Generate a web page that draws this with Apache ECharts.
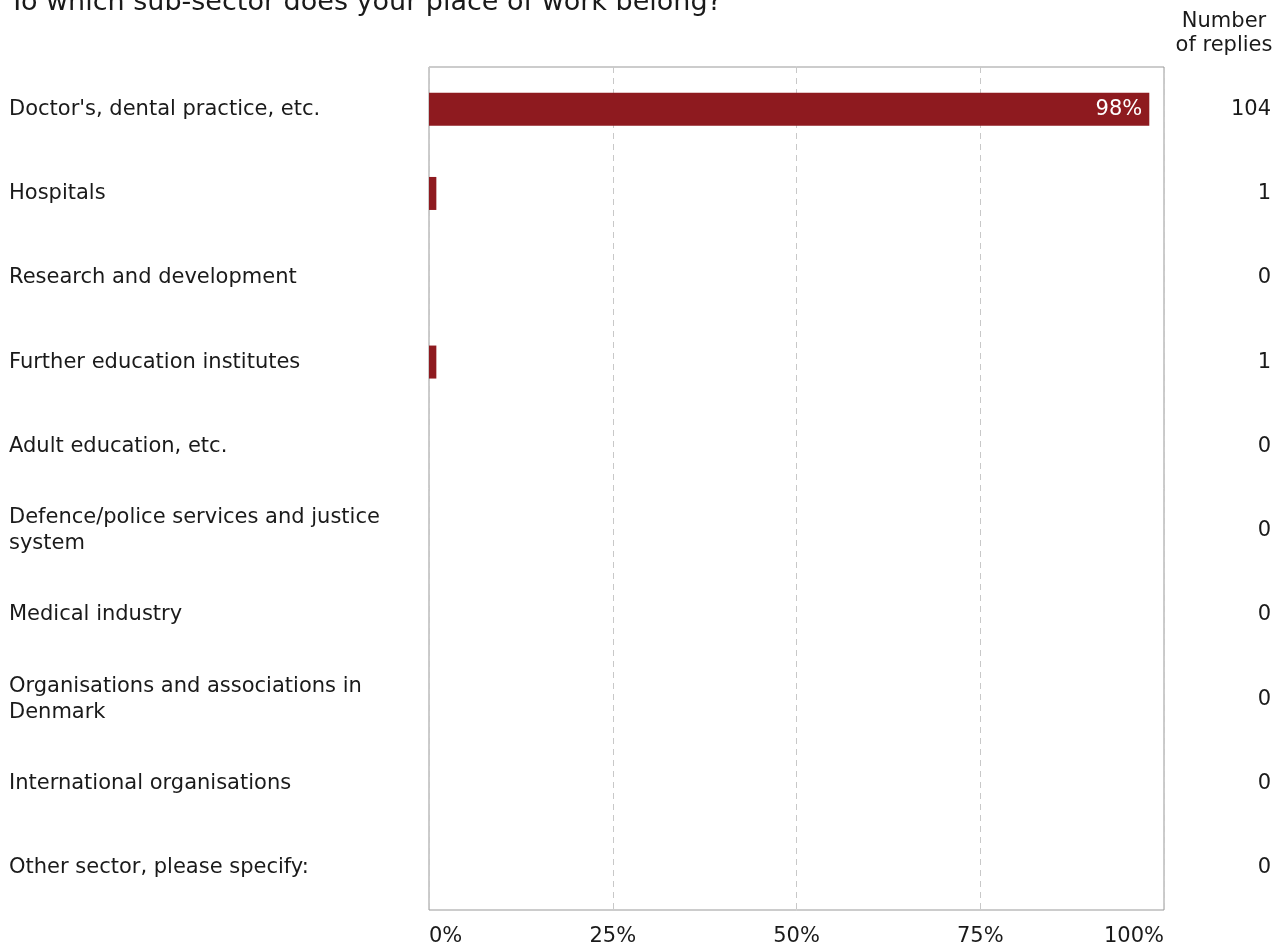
<!DOCTYPE html>
<html>
<head>
<meta charset="utf-8">
<script src="https://cdn.jsdelivr.net/npm/echarts@6/dist/echarts.min.js"></script>
<style>
  html, body { margin: 0; padding: 0; background: #fff; }
  #chart { width: 1276px; height: 947px; }
</style>
</head>
<body>
<div id="chart"></div>
<script>
// Survey answers: share of replies per sub-sector and reply counts
const categories = [
  "Doctor's, dental practice, etc.",
  "Hospitals",
  "Research and development",
  "Further education institutes",
  "Adult education, etc.",
  "Defence/police services and justice system",
  "Medical industry",
  "Organisations and associations in Denmark",
  "International organisations",
  "Other sector, please specify:"
];
const percentValues = [98, 1, 0, 1, 0, 0, 0, 0, 0, 0];
const replyCounts = [104, 1, 0, 1, 0, 0, 0, 0, 0, 0];
const percentTicks = ["0%", "25%", "50%", "75%", "100%"];

const FONT = "DejaVu Sans";
const TEXT = "#1a1a1a";
const FS = 21;

const chart = echarts.init(document.getElementById('chart'));
chart.setOption({
  animation: false,
  backgroundColor: '#fff',
  textStyle: { fontFamily: FONT },
  title: {
    text: 'To which sub-sector does your place of work belong?',
    left: 9,
    top: -11,
    padding: 0,
    textStyle: { fontFamily: FONT, fontSize: 27, fontWeight: 'normal', color: TEXT }
  },
  graphic: [
    {
      type: 'text', x: 1224, y: 22,
      style: { text: 'Number', fontFamily: FONT, fontSize: FS, fill: TEXT, align: 'center', verticalAlign: 'middle' }
    },
    {
      type: 'text', x: 1224, y: 46,
      style: { text: 'of replies', fontFamily: FONT, fontSize: FS, fill: TEXT, align: 'center', verticalAlign: 'middle' }
    }
  ],
  grid: {
    left: 429, right: 112, top: 67, bottom: 36,
    show: true, borderColor: '#999', borderWidth: 1
  },
  xAxis: {
    type: 'value', min: 0, max: 100, interval: 25,
    axisLine: { show: false }, axisTick: { show: false },
    splitLine: { show: true, lineStyle: { color: '#c8c8c8', type: [6, 5], width: 1 } },
    axisLabel: {
      margin: 16, fontFamily: FONT, fontSize: FS, color: TEXT,
      alignMinLabel: 'left', alignMaxLabel: 'right',
      formatter: v => percentTicks[Math.round(v / 25)]
    }
  },
  yAxis: [
    {
      type: 'category', data: categories, inverse: true,
      axisLine: { show: false }, axisTick: { show: false },
      axisLabel: {
        align: 'left', margin: 420, fontFamily: FONT, fontSize: FS, color: TEXT,
        width: 395, overflow: 'break', lineHeight: 26
      }
    },
    {
      type: 'category', data: replyCounts.map(String), inverse: true, position: 'right',
      axisLine: { show: false }, axisTick: { show: false },
      axisLabel: {
        align: 'right', margin: 107, fontFamily: FONT, fontSize: FS, color: TEXT
      }
    }
  ],
  series: [{
    type: 'bar',
    data: percentValues,
    barWidth: 33,
    itemStyle: { color: '#8e1a1f' },
    label: {
      show: true, position: 'insideRight', distance: 7,
      fontFamily: FONT, fontSize: FS, color: '#fff',
      formatter: p => (p.value >= 5 ? p.value + '%' : '')
    }
  }]
});
</script>
</body>
</html>
